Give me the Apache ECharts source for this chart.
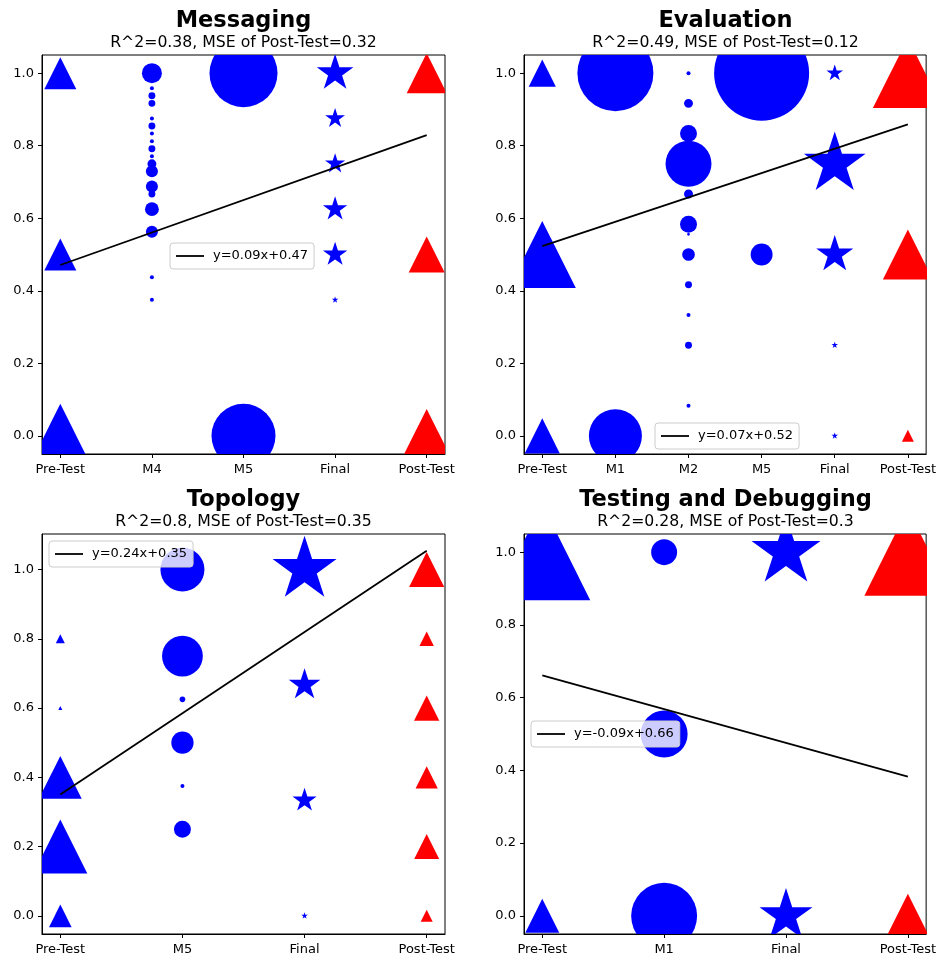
<!DOCTYPE html>
<html><head><meta charset="utf-8">
<script src="https://cdn.jsdelivr.net/npm/echarts@6/dist/echarts.min.js"></script>
<style>html,body{margin:0;padding:0;background:#fff}#c{width:939px;height:960px}</style>
</head><body><div id="c"></div>
<script>
// ================= DATA =================
// each point: [category index, score, weight]; marker diameter grows with sqrt(weight)
const yTicks = [0, 0.2, 0.4, 0.6, 0.8, 1.0];

const messagingTitle = 'Messaging';
const messagingSubtitle = 'R^2=0.38, MSE of Post-Test=0.32';
const messagingLegend = 'y=0.09x+0.47';
const messagingCategories = ['Pre-Test', 'M4', 'M5', 'Final', 'Post-Test'];
const messagingPre = [[0, 1.0, 64], [0, 0.5, 64], [0, 0.0, 256]];
const messagingCircles = [[1, 1.0, 25], [1, 0.9583, 1], [1, 0.9375, 3], [1, 0.9167, 3], [1, 0.875, 1],
  [1, 0.8542, 3], [1, 0.8333, 1], [1, 0.8125, 1], [1, 0.7917, 3], [1, 0.7708, 1], [1, 0.75, 5],
  [1, 0.7292, 9], [1, 0.6875, 9], [1, 0.6667, 3], [1, 0.625, 12], [1, 0.5625, 9], [1, 0.4375, 1],
  [1, 0.375, 1], [2, 1.0, 289], [2, 0.0, 256]];
const messagingStars = [[3, 1.0, 93], [3, 0.875, 27], [3, 0.75, 28], [3, 0.625, 41], [3, 0.5, 41], [3, 0.375, 3]];
const messagingPost = [[4, 1.0, 100], [4, 0.5, 81], [4, 0.0, 182]];
const messagingFit = [0.471, 0.829];

const evaluationTitle = 'Evaluation';
const evaluationSubtitle = 'R^2=0.49, MSE of Post-Test=0.12';
const evaluationLegend = 'y=0.07x+0.52';
const evaluationCategories = ['Pre-Test', 'M1', 'M2', 'M5', 'Final', 'Post-Test'];
const evaluationPre = [[0, 1.0, 46], [0, 0.5, 281], [0, 0.0, 77]];
const evaluationCircles = [[1, 1.0, 361], [1, 0.0, 176],
  [2, 1.0, 1], [2, 0.9167, 5], [2, 0.8333, 18], [2, 0.75, 132], [2, 0.6667, 5], [2, 0.5833, 18],
  [2, 0.5556, 0.5], [2, 0.5, 10], [2, 0.4167, 3], [2, 0.3333, 1], [2, 0.25, 3], [2, 0.0833, 1],
  [3, 1.0, 564], [3, 0.5, 30]];
const evaluationStars = [[4, 1.0, 19], [4, 0.75, 263], [4, 0.5, 95], [4, 0.25, 3], [4, 0.0, 3]];
const evaluationPost = [[5, 1.0, 306], [5, 0.5, 156], [5, 0.0, 9]];
const evaluationFit = [0.523, 0.859];

const topologyTitle = 'Topology';
const topologySubtitle = 'R^2=0.8, MSE of Post-Test=0.35';
const topologyLegend = 'y=0.24x+0.35';
const topologyCategories = ['Pre-Test', 'M5', 'Final', 'Post-Test'];
const topologyPre = [[0, 0.8, 5], [0, 0.6, 1], [0, 0.4, 114], [0, 0.2, 182], [0, 0.0, 32]];
const topologyCircles = [[1, 1.0, 121], [1, 0.75, 104], [1, 0.625, 2], [1, 0.5, 31], [1, 0.375, 1], [1, 0.25, 18]];
const topologyStars = [[2, 1.0, 283], [2, 0.6667, 69], [2, 0.3333, 40], [2, 0.0, 3]];
const topologyPost = [[3, 1.0, 77], [3, 0.8, 13], [3, 0.6, 40], [3, 0.4, 31], [3, 0.2, 39], [3, 0.0, 9]];
const topologyFit = [0.35, 1.054];

const testingTitle = 'Testing and Debugging';
const testingSubtitle = 'R^2=0.28, MSE of Post-Test=0.3';
const testingLegend = 'y=-0.09x+0.66';
const testingCategories = ['Pre-Test', 'M1', 'Final', 'Post-Test'];
const testingPre = [[0, 1.0, 576], [0, 0.0, 72]];
const testingCircles = [[1, 1.0, 42], [1, 0.5, 138], [1, 0.0, 272]];
const testingStars = [[2, 1.0, 329], [2, 0.0, 194]];
const testingPost = [[3, 1.0, 473], [3, 0.0, 121]];
const testingFit = [0.661, 0.383];

// ================= LAYOUT / STYLE =================
const FONT = 'DejaVu Sans';
const BLUE = '#0000ff', RED = '#ff0000';
const UNIT = 4;              // px diameter for weight 1
const STAR_W = 0.951;        // star width relative to circle diameter of same area
const STAR_INNER = 0.381966;

const panels = [
  {title: messagingTitle, sub: messagingSubtitle, legend: messagingLegend, cats: messagingCategories,
   pre: messagingPre, circles: messagingCircles, stars: messagingStars, post: messagingPost, fit: messagingFit,
   grid: {left: 42, top: 55, width: 403, height: 399}, yr: [-0.05, 1.05], leg: {left: 170, top: 243}},
  {title: evaluationTitle, sub: evaluationSubtitle, legend: evaluationLegend, cats: evaluationCategories,
   pre: evaluationPre, circles: evaluationCircles, stars: evaluationStars, post: evaluationPost, fit: evaluationFit,
   grid: {left: 524, top: 55, width: 403, height: 399}, yr: [-0.05, 1.05], leg: {left: 655, top: 423}},
  {title: topologyTitle, sub: topologySubtitle, legend: topologyLegend, cats: topologyCategories,
   pre: topologyPre, circles: topologyCircles, stars: topologyStars, post: topologyPost, fit: topologyFit,
   grid: {left: 42, top: 534, width: 403, height: 400}, yr: [-0.0525, 1.1025], leg: {left: 49, top: 541}},
  {title: testingTitle, sub: testingSubtitle, legend: testingLegend, cats: testingCategories,
   pre: testingPre, circles: testingCircles, stars: testingStars, post: testingPost, fit: testingFit,
   grid: {left: 524, top: 534, width: 403, height: 400}, yr: [-0.05, 1.05], leg: {left: 531, top: 721}}
];

function markerRenderer(kind, color) {
  return function (params, api) {
    const c = api.coord([api.value(0), api.value(1)]);
    const w = api.value(2);
    const style = {fill: color, stroke: null};
    if (kind === 'circle') {
      const d = UNIT * Math.sqrt(w);
      return {type: 'circle', shape: {cx: c[0], cy: c[1], r: d / 2}, style: style};
    }
    if (kind === 'triangle') {
      const h = UNIT * Math.sqrt(w) / 2;
      return {type: 'polygon', shape: {points: [[c[0], c[1] - h], [c[0] + h, c[1] + h], [c[0] - h, c[1] + h]]}, style: style};
    }
    // star: width = STAR_W * diameter, outer radius R
    const R = UNIT * STAR_W * Math.sqrt(w) / 1.902;
    const pts = [];
    for (let k = 0; k < 10; k++) {
      const a = (-90 + k * 36) * Math.PI / 180;
      const r = (k % 2 === 0) ? R : R * STAR_INNER;
      pts.push([c[0] + r * Math.cos(a), c[1] + r * Math.sin(a)]);
    }
    return {type: 'polygon', shape: {points: pts}, style: style};
  };
}

const option = {
  backgroundColor: '#fff',
  animation: false,
  title: [], grid: [], xAxis: [], yAxis: [], series: [], legend: []
};

panels.forEach((p, i) => {
  const n = p.cats.length;
  const pad = 0.05 * (n - 1);
  const cx = p.grid.left + p.grid.width / 2;
  const rowTop = p.grid.top - 55;
  option.title.push({text: p.title, left: cx, top: rowTop + 9.5, textAlign: 'center', padding: 0,
    textStyle: {fontFamily: FONT, fontSize: 22.5, fontWeight: 'bold', color: '#000'}});
  option.title.push({text: p.sub, left: cx, top: rowTop + 35, textAlign: 'center', padding: 0,
    textStyle: {fontFamily: FONT, fontSize: 15.7, fontWeight: 'normal', color: '#000'}});
  option.grid.push(Object.assign({show: true, borderColor: '#000', borderWidth: 1, containLabel: false}, p.grid));
  const idx = p.cats.map((c, k) => k);
  option.xAxis.push({
    gridIndex: i, type: 'value', min: -pad, max: n - 1 + pad,
    splitLine: {show: false},
    axisLine: {show: true, onZero: false, lineStyle: {color: '#000', width: 1}},
    axisTick: {show: true, customValues: idx, length: 4, lineStyle: {color: '#000', width: 1}},
    axisLabel: {customValues: idx, formatter: v => p.cats[Math.round(v)], fontFamily: FONT, fontSize: 13, color: '#000', margin: 9.5}
  });
  option.yAxis.push({
    gridIndex: i, type: 'value', min: p.yr[0], max: p.yr[1],
    splitLine: {show: false},
    axisLine: {show: true, onZero: false, lineStyle: {color: '#000', width: 1}},
    axisTick: {show: true, customValues: yTicks, length: 4, lineStyle: {color: '#000', width: 1}},
    axisLabel: {customValues: yTicks, formatter: v => v.toFixed(1), fontFamily: FONT, fontSize: 13, color: '#000', margin: 8}
  });
  const groups = [[p.pre, 'triangle', BLUE], [p.circles, 'circle', BLUE], [p.stars, 'star', BLUE], [p.post, 'triangle', RED]];
  groups.forEach(g => {
    option.series.push({
      type: 'custom', xAxisIndex: i, yAxisIndex: i, silent: true, clip: true, z: 2,
      encode: {x: 0, y: 1}, data: g[0], renderItem: markerRenderer(g[1], g[2])
    });
  });
  option.series.push({type: 'line', name: p.legend, xAxisIndex: i, yAxisIndex: i, silent: true, z: 5,
    data: [[0, p.fit[0]], [n - 1, p.fit[1]]], symbol: 'none', showSymbol: false,
    lineStyle: {color: '#000', width: 1.8}, itemStyle: {color: '#000'}, emphasis: {disabled: true}});
  option.legend.push({
    data: [{name: p.legend, icon: 'rect'}], left: p.leg.left, top: p.leg.top, orient: 'horizontal', selectedMode: false,
    padding: [6, 6, 6, 6], itemWidth: 28, itemHeight: 1.8,
    itemStyle: {color: '#000'},
    backgroundColor: 'rgba(255,255,255,0.8)', borderColor: '#cccccc', borderWidth: 1, borderRadius: 3,
    textStyle: {fontFamily: FONT, fontSize: 13, color: '#000', padding: [0, 0, 0, 4], lineHeight: 14}
  });
});

const chart = echarts.init(document.getElementById('c'), null, {renderer: 'canvas'});
chart.setOption(option);
</script></body></html>
